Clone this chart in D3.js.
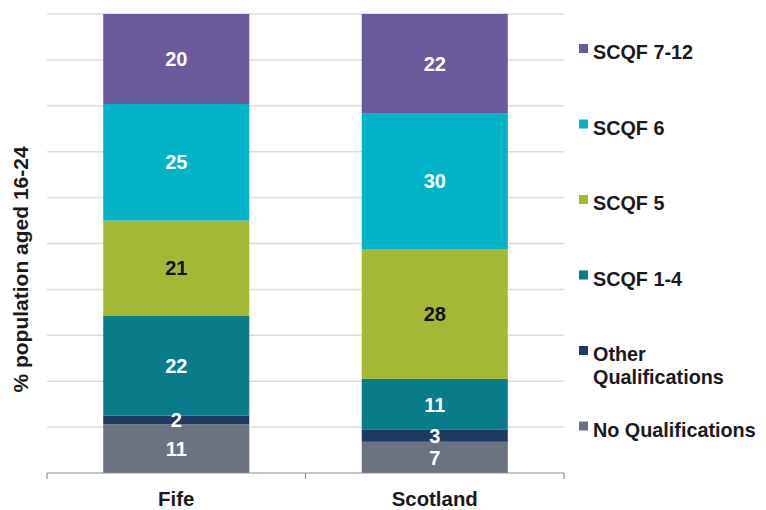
<!DOCTYPE html>
<html>
<head>
<meta charset="utf-8">
<script src="https://cdn.jsdelivr.net/npm/d3@7"></script>
<style>
  html, body { margin: 0; padding: 0; background: #fff; }
  svg { display: block; font-family: "Liberation Sans", Arial, sans-serif; }
</style>
</head>
<body>
<svg id="chart" width="766" height="510"></svg>
<script>
// ---- data ----
const categories = ["Fife", "Scotland"];
const seriesNames = ["No Qualifications", "Other Qualifications", "SCQF 1-4", "SCQF 5", "SCQF 6", "SCQF 7-12"];
const fifeValues = [10.6, 1.9, 21.7, 20.8, 25.4, 19.6];
const scotlandValues = [6.8, 2.6, 11.1, 28.3, 29.6, 21.6];
const yTicks = [0, 10, 20, 30, 40, 50, 60, 70, 80, 90, 100];
const legendLabels = [["SCQF 7-12"], ["SCQF 6"], ["SCQF 5"], ["SCQF 1-4"], ["Other", "Qualifications"], ["No Qualifications"]];
const legendKeys = ["SCQF 7-12", "SCQF 6", "SCQF 5", "SCQF 1-4", "Other Qualifications", "No Qualifications"];
const colors = ["#6b7381", "#1d3b60", "#087c8b", "#a3b935", "#00b3c6", "#6a5a9b"];
const labelColors = ["#ffffff", "#ffffff", "#ffffff", "#111111", "#ffffff", "#ffffff"];

const valuesByCat = { "Fife": fifeValues, "Scotland": scotlandValues };
const rows = categories.map(c => {
  const o = { category: c };
  seriesNames.forEach((s, i) => o[s] = valuesByCat[c][i]);
  return o;
});

const svg = d3.select("#chart");
const mLeft = 47, mRight = 564, mTop = 14, mBottom = 473;

const x = d3.scaleBand().domain(categories).range([mLeft, mRight])
  .paddingInner(0.435).paddingOuter(0.2175);
const y = d3.scaleLinear().domain([0, 100]).range([mBottom, mTop]);
const color = d3.scaleOrdinal().domain(seriesNames).range(colors);
const labelColor = d3.scaleOrdinal().domain(seriesNames).range(labelColors);

// gridlines
svg.append("g")
  .selectAll("line")
  .data(yTicks.filter(t => t > 0))
  .join("line")
  .attr("x1", mLeft).attr("x2", mRight)
  .attr("y1", d => y(d)).attr("y2", d => y(d))
  .attr("stroke", "#dcdcdc").attr("stroke-width", 1.5);

// stacked bars
const stacked = d3.stack().keys(seriesNames)(rows);
const layers = svg.append("g").selectAll("g")
  .data(stacked).join("g")
  .attr("fill", d => color(d.key));
layers.selectAll("rect")
  .data(d => d.map(p => ({ key: d.key, p })))
  .join("rect")
  .attr("x", d => x(d.p.data.category))
  .attr("width", x.bandwidth())
  .attr("y", d => y(d.p[1]))
  .attr("height", d => y(d.p[0]) - y(d.p[1]));

// data labels
const labels = svg.append("g")
  .attr("font-size", 20).attr("font-weight", "bold")
  .attr("text-anchor", "middle");
stacked.forEach(layer => {
  layer.forEach(p => {
    labels.append("text")
      .attr("x", x(p.data.category) + x.bandwidth() / 2)
      .attr("y", (y(p[0]) + y(p[1])) / 2)
      .attr("dy", "0.36em")
      .attr("fill", labelColor(layer.key))
      .text(d3.format(".0f")(p[1] - p[0]));
  });
});

// x axis
const xAxisG = svg.append("g").attr("transform", `translate(0,${mBottom})`);
xAxisG.append("line").attr("x1", mLeft).attr("x2", mRight)
  .attr("stroke", "#8c8c8c").attr("stroke-width", 1.2);
const tickXs = [mLeft, (x("Fife") + x.bandwidth() + x("Scotland")) / 2, mRight];
xAxisG.selectAll("line.tick").data(tickXs).join("line")
  .attr("class", "tick")
  .attr("x1", d => d).attr("x2", d => d).attr("y1", 0).attr("y2", 6)
  .attr("stroke", "#8c8c8c").attr("stroke-width", 1.2);
xAxisG.selectAll("text").data(categories).join("text")
  .attr("x", d => x(d) + x.bandwidth() / 2)
  .attr("y", 26).attr("dy", "0.36em")
  .attr("text-anchor", "middle")
  .attr("font-size", 20.4).attr("font-weight", "bold").attr("fill", "#1a1a1a")
  .text(d => d);

// y title
svg.append("text")
  .attr("transform", `translate(20,${(mTop + mBottom) / 2 + 26}) rotate(-90)`)
  .attr("text-anchor", "middle").attr("dy", "0.36em")
  .attr("font-size", 21).attr("font-weight", "bold").attr("fill", "#1a1a1a")
  .text("% population aged 16-24");

// legend
const legendY = d3.scalePoint().domain(legendKeys).range([52, 429.5]);
const lg = svg.append("g");
legendKeys.forEach((k, i) => {
  const cy = legendY(k);
  lg.append("rect").attr("x", 579).attr("y", cy - 8).attr("width", 9).attr("height", 9)
    .attr("fill", color(k));
  const t = lg.append("text").attr("x", 593).attr("y", cy)
    .attr("font-size", 19.8).attr("font-weight", "bold").attr("fill", "#1a1a1a");
  legendLabels[i].forEach((line, j) => {
    t.append("tspan").attr("x", 593).attr("dy", j === 0 ? "0.36em" : "1.17em").text(line);
  });
});
</script>
</body>
</html>
